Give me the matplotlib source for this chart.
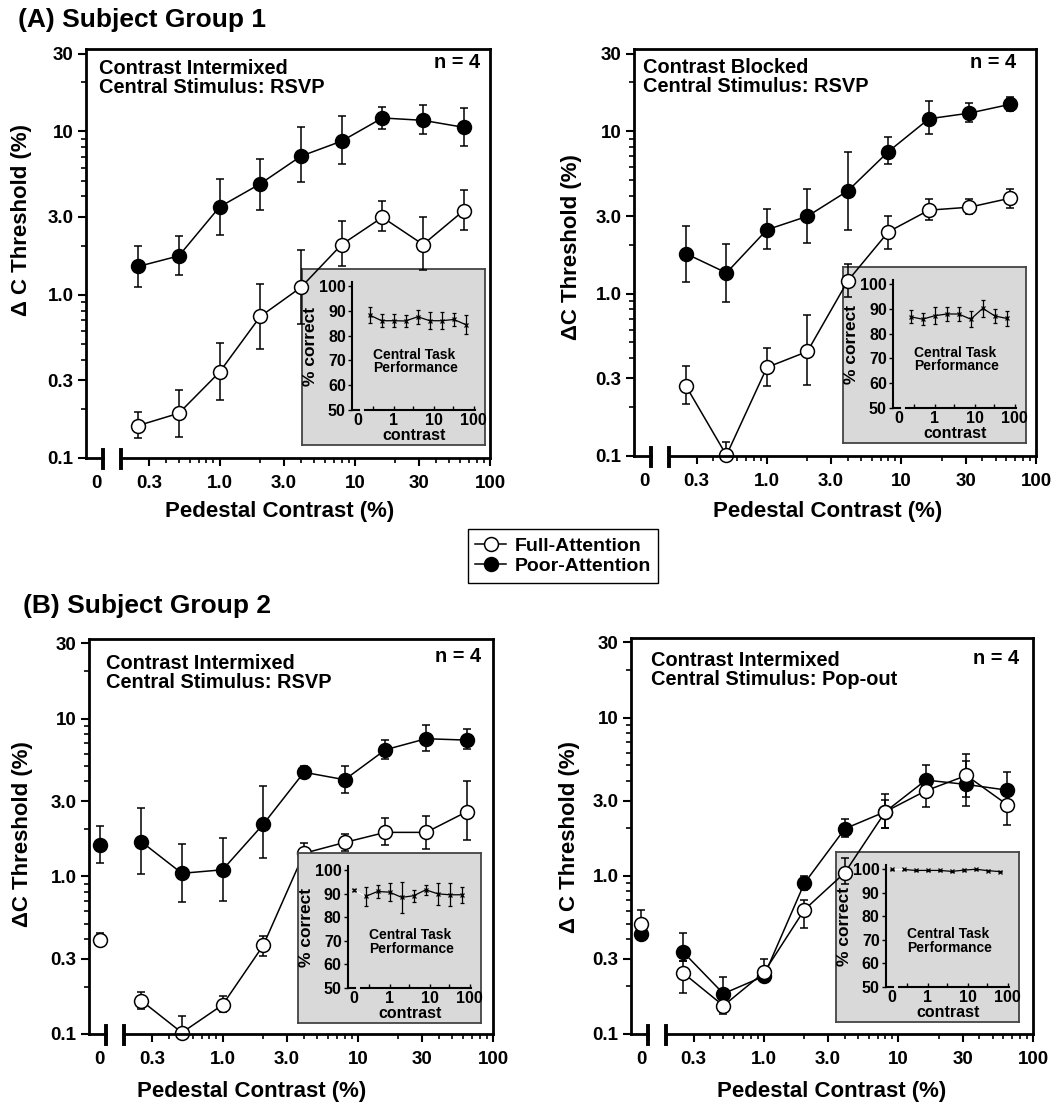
#!/usr/bin/python3
# -*- coding: utf-8 -*-
import numpy as np
import matplotlib
matplotlib.use('Agg')
from matplotlib import pyplot as plt
from matplotlib.lines import Line2D
from matplotlib.ticker import NullFormatter

# 图的像素尺寸
W, H = 1063, 1120

plt.rcParams['font.family'] = ['Liberation Sans', 'DejaVu Sans']
plt.rcParams['font.weight'] = 'bold'
plt.rcParams['axes.labelweight'] = 'bold'

# 基座对比度 (%)
contrast = [0.25, 0.5, 1, 2, 4, 8, 16, 32, 64]

# (A) 左: Contrast Intermixed, RSVP
a1_full = [0.158, 0.188, 0.336, 0.736, 1.11, 2.03, 2.98, 2.03, 3.28]
a1_full_lo = [0.133, 0.135, 0.227, 0.467, 0.66, 1.49, 2.44, 1.41, 2.5]
a1_full_hi = [0.192, 0.261, 0.505, 1.16, 1.89, 2.82, 3.73, 3.0, 4.41]
a1_poor = [1.49, 1.73, 3.45, 4.78, 7.06, 8.73, 12.1, 11.7, 10.6]
a1_poor_lo = [1.11, 1.33, 2.33, 3.29, 4.89, 6.3, 10.3, 9.6, 8.1]
a1_poor_hi = [2.0, 2.28, 5.13, 6.83, 10.6, 12.4, 14.1, 14.6, 13.9]

# (A) 右: Contrast Blocked, RSVP
a2_full = [0.270, 0.101, 0.351, 0.44, 1.2, 2.4, 3.26, 3.40, 3.86]
a2_full_lo = [0.210, 0.1, 0.268, 0.273, 0.955, 1.89, 2.83, 3.08, 3.38]
a2_full_hi = [0.359, 0.122, 0.459, 0.736, 1.53, 3.02, 3.84, 3.81, 4.43]
a2_poor = [1.76, 1.34, 2.47, 2.99, 4.29, 7.48, 11.9, 12.9, 14.6]
a2_poor_lo = [1.18, 0.89, 1.87, 2.05, 2.45, 6.25, 9.6, 11.3, 13.3]
a2_poor_hi = [2.6, 2.01, 3.32, 4.43, 7.45, 9.17, 15.4, 14.9, 16.3]

# (B) 左: Contrast Intermixed, RSVP (含0对比度: 值, 下限, 上限)
b1_full0 = [0.397, 0.369, 0.438]
b1_full = [0.163, 0.102, 0.153, 0.365, 1.40, 1.64, 1.90, 1.90, 2.57]
b1_full_lo = [0.144, 0.1, 0.137, 0.314, 1.22, 1.45, 1.58, 1.50, 1.70]
b1_full_hi = [0.186, 0.130, 0.173, 0.421, 1.62, 1.85, 2.33, 2.42, 4.01]
b1_poor0 = [1.58, 1.21, 2.09]
b1_poor = [1.66, 1.045, 1.10, 2.14, 4.57, 4.10, 6.35, 7.46, 7.31]
b1_poor_lo = [1.03, 0.69, 0.70, 1.30, 4.19, 3.36, 5.56, 6.19, 6.41]
b1_poor_hi = [2.72, 1.6, 1.74, 3.73, 5.04, 5.04, 7.27, 9.06, 8.55]

# (B) 右: Contrast Intermixed, Pop-out (含0对比度)
b2_full0 = [0.494, 0.46, 0.607]
b2_full = [0.244, 0.151, 0.245, 0.611, 1.05, 2.55, 3.46, 4.32, 2.83]
b2_full_lo = [0.181, 0.133, 0.22, 0.471, 0.885, 2.01, 2.74, 2.78, 2.11]
b2_full_hi = [0.29, 0.173, 0.299, 0.703, 1.30, 3.02, 4.08, 5.9, 3.76]
b2_poor0 = [0.427, 0.41, 0.445]
b2_poor = [0.331, 0.180, 0.232, 0.90, 1.99, 2.55, 4.04, 3.79, 3.49]
b2_poor_lo = [0.29, 0.164, 0.215, 0.82, 1.76, 2.02, 3.41, 3.17, 2.74]
b2_poor_hi = [0.433, 0.230, 0.245, 1.0, 2.28, 3.30, 5.04, 5.35, 4.57]

# 中央任务正确率 (%)
a1_pc = [88.3, 86.0, 86.0, 85.9, 87.6, 86.0, 86.0, 86.5, 84.4]
a1_pc_err = [3.2, 2.7, 2.7, 2.4, 2.9, 3.5, 3.4, 2.6, 3.9]
a2_pc = [86.8, 85.8, 87.2, 87.9, 87.9, 85.8, 90.2, 87.1, 86.1]
a2_pc_err = [2.7, 2.5, 3.4, 2.9, 2.9, 3.3, 3.4, 2.7, 3.2]
b1_pc0 = 91.6
b1_pc = [88.8, 90.9, 90.6, 88.4, 89.1, 91.6, 89.9, 89.5, 89.5]
b1_pc_err = [4.2, 2.8, 3.8, 6.6, 2.6, 2.0, 4.6, 4.9, 3.3]
b2_pc0 = 99.8
b2_pc = [99.8, 99.4, 99.4, 99.4, 99.0, 99.5, 99.9, 99.3, 98.9]
b2_pc_err = [0.3, 0.3, 0.3, 0.3, 0.3, 0.3, 0.3, 0.3, 0.3]

# 坐标轴刻度
x_ticks = [0.3, 1, 3, 10, 30, 100]
x_labels = ['0.3', '1.0', '3.0', '10', '30', '100']
y_ticks = [0.1, 0.3, 1, 3, 10, 30]
y_labels = ['0.1', '0.3', '1.0', '3.0', '10', '30']

# 0对比度在对数轴上的假位置和断轴位置
X_LEFT = 0.1028
ZERO_X = 0.123
BREAK_A = 0.138
BREAK_B = 0.188
ZERO_I = 0.125


def px_box(r):
    """像素框 (x0, y0, x1, y1) 转为 figure 坐标"""
    x0, y0, x1, y1 = r
    return [x0 / W, 1 - y1 / H, (x1 - x0) / W, (y1 - y0) / H]


def errs(vals, lo, hi):
    v = np.asarray(vals, dtype=float)
    return [v - np.asarray(lo, dtype=float), np.asarray(hi, dtype=float) - v]


def draw_panel(fig, rect, full, full_lo, full_hi, poor, poor_lo, poor_hi,
               full0=None, poor0=None, z=3):
    x0, y0, x1, y1 = rect
    ax = fig.add_axes(px_box(rect))
    ax.set_zorder(z)
    ax.patch.set_alpha(0)
    ax.set_xscale('log')
    ax.set_yscale('log')
    ax.set_xlim(X_LEFT, 100)
    ax.set_ylim(0.1, 32)

    # 先画 poor 再画 full
    for vals, lo, hi, v0, face in [(poor, poor_lo, poor_hi, poor0, 'black'),
                                   (full, full_lo, full_hi, full0, 'white')]:
        ax.errorbar(contrast, vals, yerr=errs(vals, lo, hi), fmt='none', ecolor='black',
                    elinewidth=1.1, capsize=3, capthick=1.1, zorder=2)
        ax.plot(contrast, vals, color='black', lw=1.1, marker='o', ms=10, mfc=face,
                mec='black', mew=1.1, clip_on=False, zorder=3)
        if v0 is not None:
            ax.errorbar([ZERO_X], [v0[0]], yerr=errs([v0[0]], [v0[1]], [v0[2]]), fmt='none',
                        ecolor='black', elinewidth=1.1, capsize=3, capthick=1.1, zorder=2)
            ax.plot([ZERO_X], [v0[0]], marker='o', ms=10, mfc=face, mec='black', mew=1.1,
                    ls='none', clip_on=False, zorder=3)

    # 刻度
    ax.set_xticks([ZERO_X] + x_ticks, ['0'] + x_labels)
    ax.set_xticks([0.4, 0.5, 0.6, 0.7, 0.8, 0.9, 2, 4, 5, 6, 7, 8, 9, 20, 40, 50, 60, 70, 80, 90], minor=True)
    ax.set_yticks(y_ticks, y_labels)
    ax.set_yticks([0.2, 0.4, 0.5, 0.6, 0.7, 0.8, 0.9, 2, 4, 5, 6, 7, 8, 9, 20], minor=True)
    ax.xaxis.set_minor_formatter(NullFormatter())
    ax.yaxis.set_minor_formatter(NullFormatter())
    ax.tick_params(which='major', direction='out', length=6, width=1.5, labelsize=13.5)
    ax.tick_params(which='minor', direction='out', length=3.5, width=1.2)
    ax.tick_params(axis='x', which='major', pad=6)
    ax.tick_params(axis='y', which='major', pad=3)
    ax.xaxis.get_major_ticks()[0].tick1line.set_visible(False)

    for s in ['left', 'top', 'right']:
        ax.spines[s].set_linewidth(2)
    ax.spines['bottom'].set_visible(False)

    # 断开的 x 轴
    tr = ax.get_xaxis_transform()
    hpx = float(y1 - y0)
    ax.plot([X_LEFT, BREAK_A], [0, 0], transform=tr, color='black', lw=2, clip_on=False, zorder=4)
    ax.plot([BREAK_B, 100], [0, 0], transform=tr, color='black', lw=2, clip_on=False, zorder=4)
    for b in (BREAK_A, BREAK_B):
        ax.plot([b, b], [-10 / hpx, 8 / hpx], transform=tr, color='black', lw=2.8,
                clip_on=False, zorder=4)
    return ax


def draw_inset(fig, box, pc, pc_err, pc0=None, z=1):
    bx0, by0, bx1, by1 = box
    bax = fig.add_axes(px_box(box))
    bax.set_zorder(z)
    bax.set_facecolor('#d9d9d9')
    bax.set_xticks([])
    bax.set_yticks([])
    for s in bax.spines.values():
        s.set_edgecolor('#444444')
        s.set_linewidth(1.3)

    sx = bx0 + 50
    y100 = by0 + 17
    y50 = by1 - 35
    ppu = (y50 - y100) / 50.0
    top = y100 - 1.5 * ppu
    right = sx + (np.log10(110) - np.log10(0.091)) * 40
    ins = fig.add_axes(px_box((sx, top, right, y50)))
    ins.set_zorder(z + 0.5)
    ins.patch.set_alpha(0)
    ins.set_xscale('log')
    ins.set_xlim(0.091, 110)
    ins.set_ylim(50, 101.5)

    ins.errorbar(contrast, pc, yerr=pc_err, color='black', lw=0.9, marker='x', ms=3, mew=0.9,
                 elinewidth=0.9, capsize=1.5, capthick=0.9, clip_on=False)
    if pc0 is not None:
        ins.plot([ZERO_I, contrast[0]], [pc0, pc[0]], color='white', lw=0.8)
        ins.errorbar([ZERO_I], [pc0], yerr=[0.4], color='black', marker='x', ms=3, mew=0.9,
                     elinewidth=0.9, capsize=1.5, capthick=0.9, clip_on=False)

    ins.set_yticks([50, 60, 70, 80, 90, 100])
    ins.set_xticks([ZERO_I, 1, 10, 100], ['0', '1', '10', '100'])
    ins.set_xticks([0.3, 3, 30], minor=True)
    ins.xaxis.set_minor_formatter(NullFormatter())
    ins.tick_params(axis='y', direction='out', length=3, width=1, labelsize=11.5, pad=1.5)
    ins.tick_params(axis='x', which='both', direction='in', length=3, width=1, labelsize=11.5, pad=2)
    ins.xaxis.get_major_ticks()[0].tick1line.set_visible(False)
    ins.set_ylabel('% correct', fontsize=12.5, labelpad=1)
    ins.set_xlabel('contrast', fontsize=11.5, labelpad=0)

    for s in ['top', 'right', 'bottom']:
        ins.spines[s].set_visible(False)
    ins.spines['left'].set_linewidth(1.5)
    tr = ins.get_xaxis_transform()
    ins.plot([0.091, 0.137], [0, 0], transform=tr, color='black', lw=1.5, clip_on=False)
    ins.plot([0.19, 110], [0, 0], transform=tr, color='black', lw=1.5, clip_on=False)

    ins.text(0.17, 0.38, 'Central Task\nPerformance', transform=ins.transAxes, fontsize=10,
             ha='left', va='center', linespacing=0.95)
    return ins


fig = plt.figure(figsize=(W / 100, H / 100), dpi=100)

# 四个面板和各自的插图 (像素框)
draw_panel(fig, (86, 49, 490, 458), a1_full, a1_full_lo, a1_full_hi,
           a1_poor, a1_poor_lo, a1_poor_hi, z=3)
draw_inset(fig, (302, 269, 485, 445), a1_pc, a1_pc_err, z=1)

draw_panel(fig, (634, 49, 1036, 456), a2_full, a2_full_lo, a2_full_hi,
           a2_poor, a2_poor_lo, a2_poor_hi, z=3)
draw_inset(fig, (843, 267, 1026, 443), a2_pc, a2_pc_err, z=1)

# B左: 插图盖住数据
draw_panel(fig, (89, 639, 493, 1034), b1_full, b1_full_lo, b1_full_hi,
           b1_poor, b1_poor_lo, b1_poor_hi, full0=b1_full0, poor0=b1_poor0, z=1)
draw_inset(fig, (298, 853, 481, 1023), b1_pc, b1_pc_err, pc0=b1_pc0, z=2)

draw_panel(fig, (631, 638, 1033, 1034), b2_full, b2_full_lo, b2_full_hi,
           b2_poor, b2_poor_lo, b2_poor_hi, full0=b2_full0, poor0=b2_poor0, z=3)
draw_inset(fig, (836, 852, 1019, 1022), b2_pc, b2_pc_err, pc0=b2_pc0, z=1)

conds = ['Contrast Intermixed\nCentral Stimulus: RSVP',
         'Contrast Blocked\nCentral Stimulus: RSVP',
         'Contrast Intermixed\nCentral Stimulus: RSVP',
         'Contrast Intermixed\nCentral Stimulus: Pop-out']
ylabs = ['\u0394 C Threshold (%)', '\u0394C Threshold (%)',
         '\u0394C Threshold (%)', '\u0394 C Threshold (%)']
cond_pos = [(99, 78), (643, 77), (106, 673), (651, 670)]
n_pos = [(480, 63), (1016, 63), (481, 657), (1019, 658)]
xlab_pos = [(280, 511), (828, 511), (252, 1092), (832, 1092)]
ylab_pos = [(22, 220), (571, 247), (23, 834), (569, 837)]

for i in range(4):
    fig.text(cond_pos[i][0] / W, 1 - cond_pos[i][1] / H, conds[i], fontsize=14.4,
             ha='left', va='center', linespacing=0.95)
    fig.text(n_pos[i][0] / W, 1 - n_pos[i][1] / H, 'n = 4', fontsize=14.4, ha='right', va='center')
    fig.text(xlab_pos[i][0] / W, 1 - xlab_pos[i][1] / H, 'Pedestal Contrast (%)', fontsize=16,
             ha='center', va='center')
    fig.text(ylab_pos[i][0] / W, 1 - ylab_pos[i][1] / H, ylabs[i], fontsize=16,
             ha='center', va='center', rotation=90)

fig.text(18 / W, 1 - 20 / H, '(A) Subject Group 1', fontsize=19, ha='left', va='center')
fig.text(23 / W, 1 - 606 / H, '(B) Subject Group 2', fontsize=19, ha='left', va='center')

# 图例
h_full = Line2D([], [], color='black', lw=1.1, marker='o', ms=10, mfc='white', mec='black', mew=1.1)
h_poor = Line2D([], [], color='black', lw=1.1, marker='o', ms=10, mfc='black', mec='black', mew=1.1)
leg = fig.legend([h_full, h_poor], ['Full-Attention', 'Poor-Attention'], loc='center',
                 bbox_to_anchor=(563 / W, 1 - 556 / H), frameon=True, fancybox=False,
                 edgecolor='black', framealpha=1, fontsize=14, handlelength=1.6,
                 handletextpad=0.4, borderpad=0.4, labelspacing=0.15, borderaxespad=0)
leg.get_frame().set_linewidth(1.0)

fig.savefig('out.png', dpi=100)
